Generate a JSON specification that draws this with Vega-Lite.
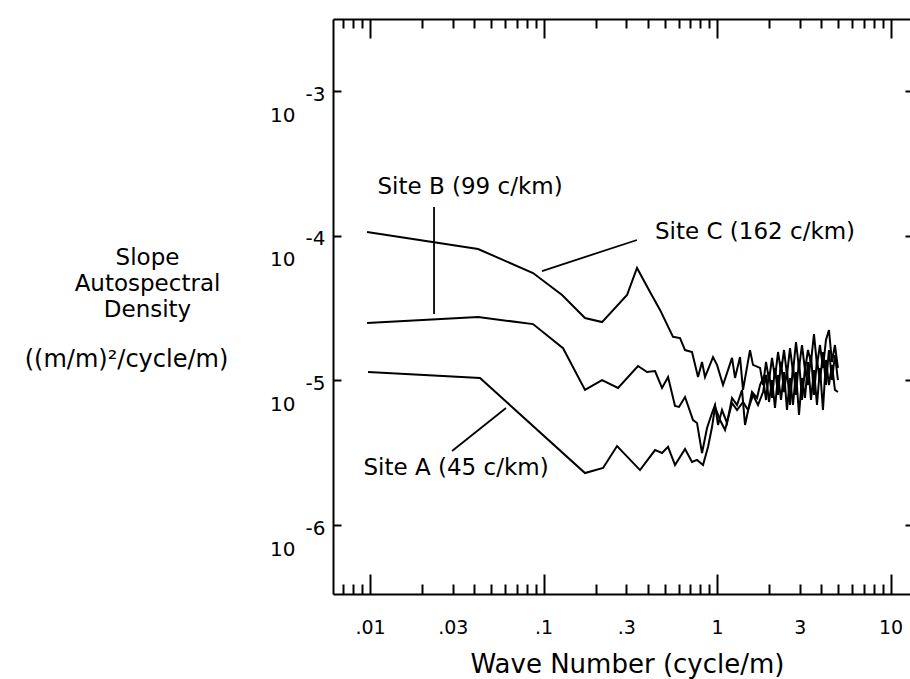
{
  "$schema": "https://vega.github.io/schema/vega-lite/v6.json",
  "width": 577,
  "height": 575,
  "autosize": "none",
  "padding": {"left": 333, "top": 19, "right": 0, "bottom": 85},
  "background": "white",
  "config": {
    "font": "DejaVu Sans",
    "view": {"stroke": null},
    "axis": {"grid": false, "domainColor": "black", "tickColor": "black", "labelColor": "black", "titleColor": "black", "labelFont": "DejaVu Sans", "titleFont": "DejaVu Sans", "titleFontWeight": "normal", "labelOverlap": false, "labelFlush": false, "labelBound": false}
  },
  "datasets": {
    "spectra": [
      {"site": "C", "x": 0.00961, "y": 1.061e-4},
      {"site": "C", "x": 0.04195, "y": 8.09e-5},
      {"site": "C", "x": 0.0870, "y": 5.52e-5},
      {"site": "C", "x": 0.1279, "y": 3.89e-5},
      {"site": "C", "x": 0.1734, "y": 2.70e-5},
      {"site": "C", "x": 0.2174, "y": 2.53e-5},
      {"site": "C", "x": 0.3029, "y": 3.89e-5},
      {"site": "C", "x": 0.3458, "y": 5.98e-5},
      {"site": "C", "x": 0.4110, "y": 4.08e-5},
      {"site": "C", "x": 0.4694, "y": 3.07e-5},
      {"site": "C", "x": 0.5577, "y": 2.00e-5},
      {"site": "C", "x": 0.6119, "y": 1.96e-5},
      {"site": "C", "x": 0.6540, "y": 1.62e-5},
      {"site": "C", "x": 0.7176, "y": 1.57e-5},
      {"site": "C", "x": 0.7770, "y": 1.055e-5},
      {"site": "C", "x": 0.8194, "y": 1.34e-5},
      {"site": "C", "x": 0.8526, "y": 1.055e-5},
      {"site": "C", "x": 0.9482, "y": 1.45e-5},
      {"site": "C", "x": 1.0, "y": 1.28e-5},
      {"site": "C", "x": 1.083, "y": 9.29e-6},
      {"site": "C", "x": 1.2205, "y": 1.43e-5},
      {"site": "C", "x": 1.270, "y": 1.04e-5},
      {"site": "C", "x": 1.357, "y": 1.45e-5},
      {"site": "C", "x": 1.412, "y": 8.59e-6},
      {"site": "C", "x": 1.549, "y": 1.62e-5},
      {"site": "C", "x": 1.612, "y": 1.28e-5},
      {"site": "C", "x": 1.770, "y": 1.22e-5},
      {"site": "C", "x": 1.842, "y": 9.29e-6},
      {"site": "C", "x": 1.916, "y": 1.341e-5},
      {"site": "C", "x": 1.994, "y": 1.006e-5},
      {"site": "C", "x": 2.075, "y": 1.428e-5},
      {"site": "C", "x": 2.159, "y": 1.039e-5},
      {"site": "C", "x": 2.247, "y": 1.571e-5},
      {"site": "C", "x": 2.338, "y": 1.143e-5},
      {"site": "C", "x": 2.433, "y": 1.622e-5},
      {"site": "C", "x": 2.531, "y": 1.090e-5},
      {"site": "C", "x": 2.634, "y": 1.674e-5},
      {"site": "C", "x": 2.741, "y": 1.143e-5},
      {"site": "C", "x": 2.852, "y": 1.842e-5},
      {"site": "C", "x": 2.968, "y": 1.218e-5},
      {"site": "C", "x": 3.088, "y": 1.756e-5},
      {"site": "C", "x": 3.214, "y": 1.180e-5},
      {"site": "C", "x": 3.344, "y": 1.622e-5},
      {"site": "C", "x": 3.480, "y": 1.341e-5},
      {"site": "C", "x": 3.621, "y": 2.092e-5},
      {"site": "C", "x": 3.768, "y": 1.278e-5},
      {"site": "C", "x": 3.921, "y": 1.756e-5},
      {"site": "C", "x": 4.080, "y": 1.218e-5},
      {"site": "C", "x": 4.245, "y": 1.902e-5},
      {"site": "C", "x": 4.417, "y": 2.230e-5},
      {"site": "C", "x": 4.597, "y": 1.341e-5},
      {"site": "C", "x": 4.783, "y": 1.756e-5},
      {"site": "C", "x": 4.977, "y": 1.218e-5},
      {"site": "B", "x": 0.00961, "y": 2.49e-5},
      {"site": "B", "x": 0.04195, "y": 2.74e-5},
      {"site": "B", "x": 0.0870, "y": 2.45e-5},
      {"site": "B", "x": 0.1296, "y": 1.67e-5},
      {"site": "B", "x": 0.1734, "y": 8.59e-6},
      {"site": "B", "x": 0.2174, "y": 1.006e-5},
      {"site": "B", "x": 0.2688, "y": 8.86e-6},
      {"site": "B", "x": 0.3505, "y": 1.258e-5},
      {"site": "B", "x": 0.395, "y": 1.143e-5},
      {"site": "B", "x": 0.4393, "y": 1.161e-5},
      {"site": "B", "x": 0.4820, "y": 8.86e-6},
      {"site": "B", "x": 0.5221, "y": 1.055e-5},
      {"site": "B", "x": 0.5726, "y": 6.65e-6},
      {"site": "B", "x": 0.6039, "y": 6.55e-6},
      {"site": "B", "x": 0.6540, "y": 7.68e-6},
      {"site": "B", "x": 0.7272, "y": 5.32e-6},
      {"site": "B", "x": 0.7667, "y": 5.08e-6},
      {"site": "B", "x": 0.8194, "y": 3.15e-6},
      {"site": "B", "x": 0.8758, "y": 4.69e-6},
      {"site": "B", "x": 0.9359, "y": 5.95e-6},
      {"site": "B", "x": 0.9739, "y": 6.76e-6},
      {"site": "B", "x": 1.0134, "y": 4.92e-6},
      {"site": "B", "x": 1.0685, "y": 6.24e-6},
      {"site": "B", "x": 1.1419, "y": 5.08e-6},
      {"site": "B", "x": 1.2205, "y": 7.56e-6},
      {"site": "B", "x": 1.3041, "y": 6.76e-6},
      {"site": "B", "x": 1.3935, "y": 8.59e-6},
      {"site": "B", "x": 1.45, "y": 4.92e-6},
      {"site": "B", "x": 1.591, "y": 8.31e-6},
      {"site": "B", "x": 1.7006, "y": 7.56e-6},
      {"site": "B", "x": 1.7697, "y": 9.29e-6},
      {"site": "B", "x": 1.842, "y": 1.039e-5},
      {"site": "B", "x": 1.916, "y": 7.32e-6},
      {"site": "B", "x": 1.994, "y": 1.143e-5},
      {"site": "B", "x": 2.075, "y": 7.56e-6},
      {"site": "B", "x": 2.159, "y": 1.218e-5},
      {"site": "B", "x": 2.247, "y": 7.93e-6},
      {"site": "B", "x": 2.338, "y": 1.341e-5},
      {"site": "B", "x": 2.433, "y": 8.31e-6},
      {"site": "B", "x": 2.531, "y": 1.180e-5},
      {"site": "B", "x": 2.634, "y": 6.76e-6},
      {"site": "B", "x": 2.741, "y": 1.278e-5},
      {"site": "B", "x": 2.852, "y": 7.93e-6},
      {"site": "B", "x": 2.968, "y": 1.384e-5},
      {"site": "B", "x": 3.088, "y": 7.32e-6},
      {"site": "B", "x": 3.214, "y": 1.218e-5},
      {"site": "B", "x": 3.344, "y": 9.29e-6},
      {"site": "B", "x": 3.480, "y": 1.498e-5},
      {"site": "B", "x": 3.621, "y": 7.93e-6},
      {"site": "B", "x": 3.768, "y": 1.384e-5},
      {"site": "B", "x": 3.921, "y": 9.75e-6},
      {"site": "B", "x": 4.080, "y": 1.571e-5},
      {"site": "B", "x": 4.245, "y": 9.29e-6},
      {"site": "B", "x": 4.417, "y": 1.622e-5},
      {"site": "B", "x": 4.597, "y": 1.006e-5},
      {"site": "B", "x": 4.783, "y": 1.498e-5},
      {"site": "B", "x": 4.977, "y": 1.006e-5},
      {"site": "A", "x": 0.00974, "y": 1.143e-5},
      {"site": "A", "x": 0.04305, "y": 1.039e-5},
      {"site": "A", "x": 0.1734, "y": 2.29e-6},
      {"site": "A", "x": 0.2203, "y": 2.48e-6},
      {"site": "A", "x": 0.2653, "y": 3.52e-6},
      {"site": "A", "x": 0.3599, "y": 2.40e-6},
      {"site": "A", "x": 0.4393, "y": 3.30e-6},
      {"site": "A", "x": 0.4820, "y": 3.15e-6},
      {"site": "A", "x": 0.5221, "y": 3.47e-6},
      {"site": "A", "x": 0.5726, "y": 2.60e-6},
      {"site": "A", "x": 0.6540, "y": 3.36e-6},
      {"site": "A", "x": 0.7176, "y": 2.73e-6},
      {"site": "A", "x": 0.7667, "y": 2.82e-6},
      {"site": "A", "x": 0.8303, "y": 2.60e-6},
      {"site": "A", "x": 0.8873, "y": 3.47e-6},
      {"site": "A", "x": 0.9359, "y": 4.76e-6},
      {"site": "A", "x": 0.9739, "y": 6.55e-6},
      {"site": "A", "x": 1.0406, "y": 5.32e-6},
      {"site": "A", "x": 1.112, "y": 4.54e-6},
      {"site": "A", "x": 1.2205, "y": 6.98e-6},
      {"site": "A", "x": 1.3041, "y": 6.24e-6},
      {"site": "A", "x": 1.4122, "y": 7.09e-6},
      {"site": "A", "x": 1.5089, "y": 6.24e-6},
      {"site": "A", "x": 1.6124, "y": 7.93e-6},
      {"site": "A", "x": 1.7233, "y": 6.76e-6},
      {"site": "A", "x": 1.842, "y": 8.31e-6},
      {"site": "A", "x": 1.916, "y": 1.090e-5},
      {"site": "A", "x": 1.994, "y": 7.09e-6},
      {"site": "A", "x": 2.075, "y": 1.006e-5},
      {"site": "A", "x": 2.159, "y": 6.45e-6},
      {"site": "A", "x": 2.247, "y": 1.090e-5},
      {"site": "A", "x": 2.338, "y": 7.32e-6},
      {"site": "A", "x": 2.433, "y": 1.143e-5},
      {"site": "A", "x": 2.531, "y": 6.24e-6},
      {"site": "A", "x": 2.634, "y": 1.039e-5},
      {"site": "A", "x": 2.741, "y": 6.76e-6},
      {"site": "A", "x": 2.852, "y": 1.143e-5},
      {"site": "A", "x": 2.968, "y": 5.77e-6},
      {"site": "A", "x": 3.088, "y": 1.039e-5},
      {"site": "A", "x": 3.214, "y": 7.56e-6},
      {"site": "A", "x": 3.344, "y": 1.341e-5},
      {"site": "A", "x": 3.480, "y": 7.32e-6},
      {"site": "A", "x": 3.621, "y": 1.180e-5},
      {"site": "A", "x": 3.768, "y": 6.76e-6},
      {"site": "A", "x": 3.921, "y": 1.218e-5},
      {"site": "A", "x": 4.080, "y": 6.24e-6},
      {"site": "A", "x": 4.245, "y": 1.384e-5},
      {"site": "A", "x": 4.417, "y": 9.29e-6},
      {"site": "A", "x": 4.597, "y": 1.278e-5},
      {"site": "A", "x": 4.783, "y": 8.59e-6},
      {"site": "A", "x": 4.977, "y": 8.31e-6}
    ],
    "leaders": [
      {"x": 0.02338, "y": 1.579e-4, "x2": 0.02338, "y2": 2.876e-5},
      {"x": 0.0980, "y": 5.70e-5, "x2": 0.3458, "y2": 9.34e-5},
      {"x": 0.02970, "y": 3.25e-6, "x2": 0.06079, "y2": 6.45e-6}
    ],
    "labels": [
      {"label": "Site B (99 c/km)", "x": 0.03771, "y": 2.171e-4},
      {"label": "Site C (162 c/km)", "x": 1.656, "y": 1.061e-4},
      {"label": "Site A (45 c/km)", "x": 0.03131, "y": 2.48e-6}
    ]
  },
  "layer": [
    {
      "data": {"name": "spectra"},
      "mark": {"type": "line", "color": "black", "strokeWidth": 2},
      "encoding": {
        "x": {
          "field": "x", "type": "quantitative",
          "scale": {"type": "log", "domain": [0.006117, 12.95], "nice": false},
          "axis": {
            "orient": "bottom",
            "values": [0.01, 0.03, 0.1, 0.3, 1, 3, 10],
            "ticks": false,
            "domain": true, "domainWidth": 2,
            "labelExpr": "datum.value < 1 ? substring(toString(datum.value), 1) : toString(datum.value)",
            "labelFontSize": 19, "labelPadding": 24, "labelBaseline": "top",
            "title": "Wave Number (cycle/m)",
            "titleFontSize": 26, "titleX": 294, "titleY": 78, "titleBaseline": "alphabetic", "titleAlign": "center"
          }
        },
        "y": {
          "field": "y", "type": "quantitative",
          "scale": {"type": "log", "domain": [3.34e-7, 3.145e-3], "nice": false},
          "axis": {
            "orient": "left",
            "values": [0.001, 0.0001, 0.00001, 0.000001],
            "tickSize": -8, "tickWidth": 2,
            "domain": true, "domainWidth": 2,
            "labelExpr": "'-' + toString(-round(log(datum.value)/LN10))",
            "labelFontSize": 20, "labelPadding": 16,
            "labelAlign": "right", "labelBaseline": "middle", "labelOffset": 3,
            "title": ["Slope", "Autospectral", "Density"],
            "titleAngle": 0, "titleAlign": "center", "titleBaseline": "middle",
            "titleX": -186, "titleY": 238, "titleFontSize": 23, "titleLineHeight": 26
          }
        },
        "detail": {"field": "site"}
      }
    },
    {
      "data": {"name": "leaders"},
      "mark": {"type": "rule", "color": "black", "strokeWidth": 1.8},
      "encoding": {
        "x": {
          "field": "x", "type": "quantitative",
          "scale": {"type": "log", "domain": [0.006117, 12.95], "nice": false},
          "axis": {
            "orient": "bottom",
            "values": [0.007, 0.008, 0.009, 0.01, 0.02, 0.03, 0.04, 0.05, 0.06, 0.07, 0.08, 0.09, 0.1, 0.2, 0.3, 0.4, 0.5, 0.6, 0.7, 0.8, 0.9, 1, 2, 3, 4, 5, 6, 7, 8, 9, 10],
            "tickSize": {"condition": {"test": "datum.value == 0.01 || datum.value == 0.1 || datum.value == 1 || datum.value == 10", "value": -20}, "value": -10},
            "tickWidth": 2,
            "labels": false, "domain": false, "title": null
          }
        },
        "x2": {"field": "x2"},
        "y": {
          "field": "y", "type": "quantitative",
          "scale": {"type": "log", "domain": [3.34e-7, 3.145e-3], "nice": false},
          "axis": {
            "orient": "right",
            "values": [0.001, 0.0001, 0.00001, 0.000001],
            "tickSize": -5, "tickWidth": 2,
            "labels": false, "domain": false, "title": null
          }
        },
        "y2": {"field": "y2"}
      }
    },
    {
      "data": {"name": "labels"},
      "mark": {"type": "text", "fontSize": 23, "align": "center", "baseline": "middle", "color": "black", "font": "DejaVu Sans"},
      "encoding": {
        "x": {
          "field": "x", "type": "quantitative",
          "scale": {"type": "log", "domain": [0.006117, 12.95], "nice": false},
          "axis": {
            "orient": "top",
            "values": [0.007, 0.008, 0.009, 0.01, 0.02, 0.03, 0.04, 0.05, 0.06, 0.07, 0.08, 0.09, 0.1, 0.2, 0.3, 0.4, 0.5, 0.6, 0.7, 0.8, 0.9, 1, 2, 3, 4, 5, 6, 7, 8, 9, 10],
            "tickSize": {"condition": {"test": "datum.value == 0.01 || datum.value == 0.1 || datum.value == 1 || datum.value == 10", "value": -19}, "value": -9},
            "tickWidth": 2,
            "labels": false, "domain": true, "domainWidth": 2, "title": null
          }
        },
        "y": {
          "field": "y", "type": "quantitative",
          "scale": {"type": "log", "domain": [3.34e-7, 3.145e-3], "nice": false},
          "axis": {
            "orient": "left",
            "values": [0.001, 0.0001, 0.00001, 0.000001],
            "ticks": false, "domain": false,
            "labelExpr": "'10'",
            "labelFontSize": 20, "labelPadding": 38,
            "labelAlign": "right", "labelBaseline": "middle", "labelOffset": 24,
            "title": "((m/m)²/cycle/m)",
            "titleAngle": 0, "titleAlign": "center", "titleBaseline": "middle",
            "titleX": -207, "titleY": 340, "titleFontSize": 24
          }
        },
        "text": {"field": "label"}
      }
    }
  ],
  "resolve": {"axis": {"x": "independent", "y": "independent"}}
}
